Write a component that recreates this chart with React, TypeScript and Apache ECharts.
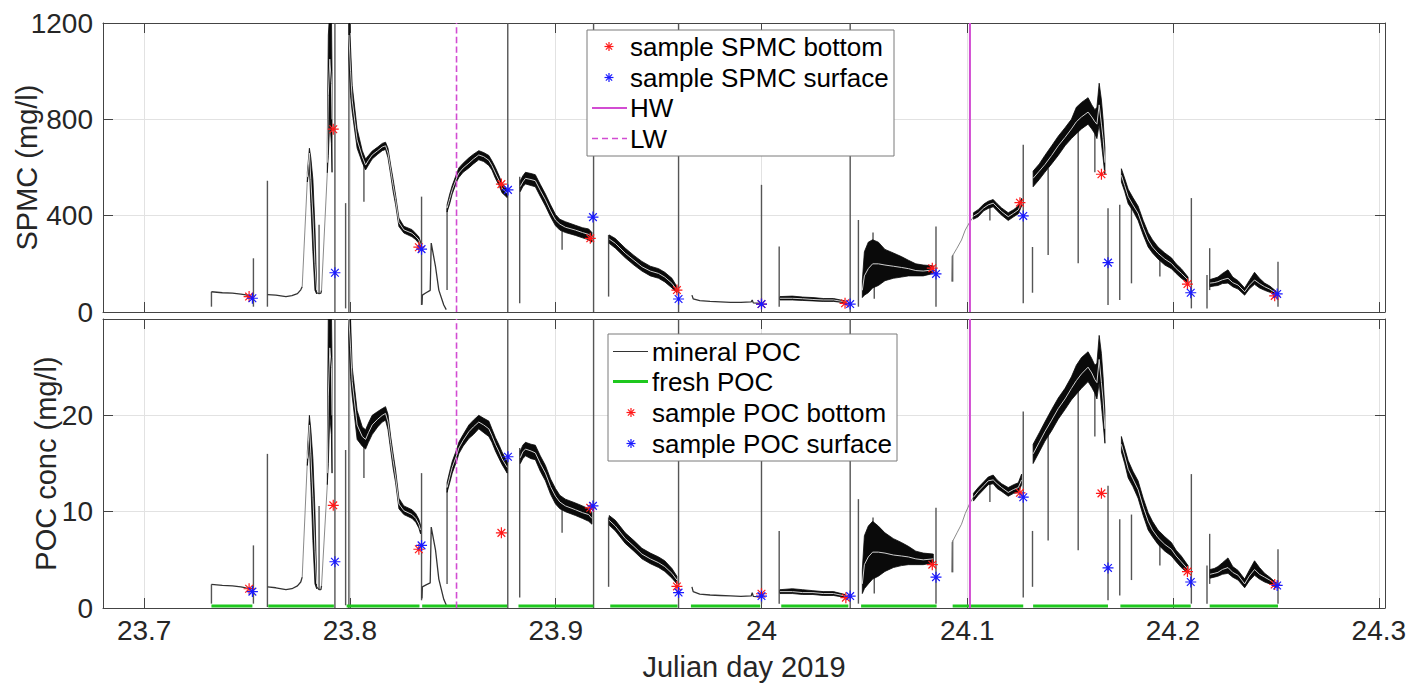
import React, { useEffect, useRef } from 'react';
import * as echarts from 'echarts';

// ---------- axes ----------
const xTicks = [23.7, 23.8, 23.9, 24.0, 24.1, 24.2, 24.3];
const xMin = 23.68;
const xMax = 24.303;
const spmcMax = 1200;
const pocMax = 30;
const hwDay = 24.1013;
const lwDay = 23.8518;

// ---------- SPMC (top panel) ----------
// noisy record: [day, low, smoothed, high]
const spmcBand = [
  [[23.7793, 540, 560, 580], [23.7803, 600, 660, 680], [23.7810, 450, 550, 640], [23.7820, 250, 400, 550], [23.7830, 90, 200, 350], [23.7838, 75, 90, 110]],
  [[23.7890, 578, 620, 700], [23.7895, 650, 900, 1150], [23.7902, 800, 1050, 1250], [23.7910, 700, 950, 1250], [23.7913, 580, 800, 1000]],
  [[23.7995, 1050, 1150, 1250], [23.8003, 900, 1000, 1100], [23.8011, 830, 880, 940], [23.8035, 680, 715, 760], [23.8060, 620, 645, 670], [23.8076, 590, 610, 635], [23.8090, 610, 630, 650], [23.8108, 635, 652, 668], [23.8135, 655, 670, 685], [23.8157, 670, 685, 700], [23.8173, 675, 690, 705], [23.8185, 640, 660, 680], [23.8198, 570, 590, 610], [23.8210, 500, 525, 550], [23.8222, 445, 466, 485], [23.8238, 355, 372, 390], [23.8262, 328, 341, 356], [23.8302, 312, 327, 342], [23.8320, 300, 313, 326], [23.8335, 285, 299, 312], [23.8343, 265, 278, 292]],
  [[23.8472, 415, 431, 445], [23.8485, 450, 470, 490], [23.8497, 490, 507, 525], [23.8521, 545, 562, 580], [23.8529, 558, 577, 598], [23.8550, 580, 598, 618], [23.8578, 598, 618, 640], [23.8600, 615, 635, 655], [23.8626, 632, 652, 670], [23.8650, 625, 645, 662], [23.8675, 608, 630, 650], [23.8690, 590, 608, 628], [23.8707, 555, 577, 600], [23.8725, 525, 545, 565], [23.8739, 495, 514, 535], [23.8764, 475, 493, 510]],
  [[23.8828, 500, 521, 545], [23.8840, 520, 540, 565], [23.8853, 532, 555, 580], [23.8880, 525, 550, 575], [23.8901, 520, 545, 570], [23.8925, 480, 505, 530], [23.8950, 440, 466, 490], [23.8975, 395, 420, 445], [23.8999, 358, 382, 405], [23.9020, 340, 365, 385], [23.9047, 330, 352, 375], [23.9096, 318, 340, 360], [23.9130, 308, 330, 350], [23.9160, 300, 322, 345], [23.9176, 290, 313, 330]],
  [[23.9260, 285, 303, 320], [23.9290, 265, 285, 305], [23.9338, 225, 244, 265], [23.9380, 195, 215, 235], [23.9419, 170, 188, 210], [23.9460, 150, 170, 190], [23.9500, 140, 160, 180], [23.9530, 125, 145, 165], [23.9565, 100, 119, 140], [23.9589, 80, 91, 105]],
  [[24.0090, 50, 57, 64], [24.0150, 50, 57, 66], [24.0200, 48, 55, 62], [24.0250, 46, 52, 60], [24.0300, 44, 50, 56], [24.0350, 44, 50, 56], [24.0406, 38, 42, 46]],
  [[24.0490, 60, 90, 130], [24.0500, 70, 150, 250], [24.0519, 80, 180, 290], [24.0540, 100, 200, 300], [24.0568, 110, 200, 290], [24.0600, 130, 195, 260], [24.0641, 140, 190, 245], [24.0680, 145, 185, 230], [24.0714, 150, 180, 215], [24.0750, 150, 172, 200], [24.0786, 150, 170, 195], [24.0835, 160, 175, 192]],
  [[24.1030, 385, 398, 412], [24.1053, 395, 410, 425], [24.1080, 420, 432, 448], [24.1102, 430, 445, 460], [24.1126, 437, 452, 467], [24.1145, 420, 436, 450], [24.1167, 402, 417, 432], [24.1199, 380, 396, 412], [24.1225, 395, 410, 425], [24.1248, 408, 424, 440], [24.1264, 440, 455, 472]],
  [[24.1320, 520, 555, 585], [24.1350, 550, 585, 615], [24.1377, 580, 612, 650], [24.1410, 615, 650, 690], [24.1442, 650, 690, 730], [24.1475, 690, 725, 765], [24.1506, 720, 760, 800], [24.1530, 740, 790, 850], [24.1555, 760, 810, 870], [24.1587, 780, 830, 890], [24.1605, 760, 810, 860], [24.1620, 740, 790, 840], [24.1630, 720, 780, 850], [24.1641, 780, 860, 950], [24.1652, 700, 780, 880], [24.1660, 640, 720, 800], [24.1669, 570, 620, 680]],
  [[24.1749, 540, 568, 595], [24.1765, 500, 525, 555], [24.1782, 450, 479, 510], [24.1805, 420, 445, 475], [24.1830, 380, 410, 440], [24.1855, 320, 350, 380], [24.1879, 270, 299, 330], [24.1900, 245, 270, 300], [24.1927, 220, 244, 270], [24.1960, 195, 220, 245], [24.1992, 180, 202, 225], [24.2015, 160, 180, 200], [24.2040, 140, 161, 180], [24.2073, 120, 133, 145]],
  [[24.2180, 105, 120, 135], [24.2200, 108, 122, 140], [24.2218, 110, 126, 145], [24.2240, 118, 134, 160], [24.2267, 120, 140, 175], [24.2290, 105, 122, 145], [24.2316, 95, 112, 130], [24.2348, 70, 84, 100], [24.2370, 95, 110, 130], [24.2396, 115, 133, 165], [24.2420, 100, 118, 140], [24.2445, 90, 105, 120], [24.2470, 82, 95, 108], [24.2501, 70, 78, 86]],
];
// quiet stretches: [day, value]
const spmcThin = [
  [[23.7327, 84], [23.7380, 80], [23.7429, 78], [23.7470, 74], [23.7494, 71], [23.7526, 64]],
  [[23.7600, 72], [23.7640, 70], [23.7689, 64], [23.7718, 68], [23.7745, 76], [23.7761, 92], [23.7768, 105]],
  [[23.7838, 80], [23.7850, 76], [23.7859, 78], [23.7862, 90]],
  [[23.8350, 30], [23.8352, 70], [23.8370, 80], [23.8390, 90], [23.8395, 286], [23.8416, 188], [23.8432, 91], [23.8456, 29], [23.8468, 10]],
  [[23.9662, 70], [23.9668, 55], [23.9700, 47], [23.9750, 44], [23.9800, 42], [23.9850, 40], [23.9900, 40], [23.9950, 42], [23.9955, 50], [23.9960, 38], [23.9994, 36]],
];
const spmcRamps = [
  [[23.7768, 105], [23.7793, 549]],
  [[23.7862, 90], [23.7890, 578]],
  [[24.0924, 126], [24.0926, 230], [24.0950, 265], [24.0972, 299], [24.0990, 340], [24.1013, 375], [24.1030, 395]],
];
// spikes: [day, from, to]
const spmcSpikes = [
  [23.7327, 22, 84], [23.7531, 22, 223], [23.7599, 22, 545], [23.7850, 78, 362], [23.7927, 0, 1200], [23.7979, 15, 452],
  [23.7995, 0, 1200], [23.8068, 458, 620], [23.8348, 29, 479], [23.8472, 91, 431], [23.8767, 0, 1200], [23.8825, 36, 562],
  [23.9031, 258, 360], [23.9184, 0, 1200], [23.9257, 64, 320], [23.9597, 0, 1200], [24.0, 22, 528], [24.0086, 22, 272],
  [24.0431, 0, 1200], [24.0471, 22, 382], [24.0542, 150, 330], [24.0548, 55, 200], [24.0848, 22, 355], [24.0929, 126, 237],
  [24.1110, 380, 450], [24.1272, 36, 694], [24.1317, 80, 270], [24.1393, 237, 597], [24.1539, 202, 840], [24.1620, 580, 800],
  [24.1684, 29, 431], [24.1741, 50, 445], [24.1798, 119, 435], [24.1936, 147, 230], [24.2089, 15, 473], [24.2165, 15, 154],
  [24.2178, 91, 265], [24.2510, 22, 209],
];
const spmcBottom = [
  [23.7510, 64], [23.7919, 759], [23.8335, 269], [23.8736, 531], [23.9168, 306], [23.9589, 91], [24.0, 33],
  [24.0406, 36], [24.0830, 182], [24.1256, 454], [24.1652, 572], [24.2070, 116], [24.2494, 67],
];
const spmcSurface = [
  [23.7526, 57], [23.7927, 163], [23.8348, 261], [23.8768, 507], [23.9181, 394], [23.9597, 54], [24.0, 33],
  [24.0431, 33], [24.0848, 158], [24.1272, 399], [24.1684, 205], [24.2086, 80], [24.2506, 75],
];

// ---------- POC (bottom panel) ----------
const pocBand = [
  [[23.7793, 14.8, 15.5, 16.2], [23.7803, 17.0, 19.0, 20.0], [23.7810, 13.0, 16.0, 18.5], [23.7820, 7.0, 11.5, 15.5], [23.7830, 2.5, 6.0, 10.0], [23.7838, 2.0, 2.5, 3.2]],
  [[23.7890, 12.8, 14, 16], [23.7895, 15, 22, 31], [23.7902, 20, 27, 31], [23.7910, 18, 25, 31], [23.7913, 14, 20, 26]],
  [[23.7995, 28, 30, 31], [23.8003, 24, 27, 30], [23.8011, 22, 23.5, 25], [23.8035, 17.5, 19, 20.5], [23.8060, 16.8, 17.8, 18.8], [23.8076, 16.5, 17.5, 18.5], [23.8090, 17.2, 18.2, 19.2], [23.8108, 18.0, 19.0, 20.0], [23.8135, 18.8, 19.6, 20.4], [23.8157, 19.3, 20.0, 20.7], [23.8173, 19.5, 20.2, 20.9], [23.8185, 18.5, 19.3, 20.1], [23.8198, 16.4, 17.1, 17.8], [23.8210, 14.5, 15.3, 16.0], [23.8222, 13.0, 13.6, 14.3], [23.8238, 10.3, 10.8, 11.4], [23.8262, 9.7, 10.1, 10.6], [23.8302, 9.3, 9.7, 10.2], [23.8320, 8.9, 9.3, 9.8], [23.8335, 8.3, 8.7, 9.2], [23.8343, 7.7, 8.1, 8.6]],
  [[23.8472, 12.0, 12.5, 13.0], [23.8485, 13.0, 13.6, 14.2], [23.8497, 14.0, 14.6, 15.2], [23.8521, 15.4, 16.0, 16.6], [23.8529, 16.0, 16.6, 17.2], [23.8550, 16.8, 17.4, 18.0], [23.8578, 17.6, 18.3, 19.0], [23.8600, 18.0, 18.8, 19.5], [23.8626, 18.6, 19.3, 20.0], [23.8650, 18.2, 19.0, 19.7], [23.8675, 17.8, 18.6, 19.4], [23.8690, 17.2, 17.9, 18.6], [23.8707, 16.3, 17.0, 17.7], [23.8725, 15.5, 16.2, 16.9], [23.8739, 14.9, 15.5, 16.2], [23.8764, 14.0, 14.6, 15.2]],
  [[23.8828, 15.0, 15.6, 16.3], [23.8840, 15.5, 16.2, 16.9], [23.8853, 15.8, 16.5, 17.2], [23.8880, 15.5, 16.3, 17.0], [23.8901, 15.4, 16.1, 16.9], [23.8925, 14.2, 15.0, 15.8], [23.8950, 13.2, 14.0, 14.8], [23.8975, 11.8, 12.6, 13.4], [23.8999, 10.8, 11.6, 12.4], [23.9020, 10.3, 11.0, 11.7], [23.9047, 10.0, 10.6, 11.3], [23.9096, 9.6, 10.2, 10.9], [23.9130, 9.3, 9.9, 10.6], [23.9160, 9.0, 9.7, 10.3], [23.9176, 8.7, 9.3, 9.9]],
  [[23.9260, 8.6, 9.1, 9.6], [23.9290, 8.0, 8.5, 9.1], [23.9338, 6.7, 7.2, 7.8], [23.9380, 5.9, 6.4, 7.0], [23.9419, 5.1, 5.6, 6.2], [23.9460, 4.6, 5.1, 5.7], [23.9500, 4.2, 4.7, 5.3], [23.9530, 3.8, 4.3, 4.9], [23.9565, 3.1, 3.6, 4.1], [23.9589, 2.5, 2.9, 3.3]],
  [[24.0090, 1.5, 1.7, 1.9], [24.0150, 1.5, 1.7, 2.0], [24.0200, 1.4, 1.6, 1.9], [24.0250, 1.4, 1.6, 1.8], [24.0300, 1.3, 1.5, 1.7], [24.0350, 1.3, 1.5, 1.7], [24.0406, 1.1, 1.25, 1.4]],
  [[24.0490, 1.5, 2.5, 4.0], [24.0500, 2.0, 4.5, 7.5], [24.0519, 2.5, 5.3, 8.5], [24.0540, 3.0, 5.8, 9.0], [24.0568, 3.3, 5.8, 8.5], [24.0600, 3.8, 5.7, 7.8], [24.0641, 4.2, 5.5, 7.2], [24.0680, 4.4, 5.4, 6.8], [24.0714, 4.5, 5.3, 6.4], [24.0750, 4.5, 5.1, 5.9], [24.0786, 4.5, 5.0, 5.7], [24.0835, 4.7, 5.1, 5.6]],
  [[24.1030, 11.1, 11.5, 11.9], [24.1053, 11.7, 12.1, 12.5], [24.1080, 12.3, 12.7, 13.1], [24.1102, 12.8, 13.2, 13.6], [24.1126, 12.9, 13.3, 13.8], [24.1145, 12.4, 12.9, 13.3], [24.1167, 12.1, 12.5, 12.9], [24.1199, 11.6, 12.0, 12.5], [24.1225, 11.9, 12.3, 12.8], [24.1248, 12.0, 12.5, 13.0], [24.1264, 12.8, 13.3, 13.9]],
  [[24.1320, 15.0, 16.0, 17.0], [24.1350, 16.2, 17.2, 18.2], [24.1377, 17.3, 18.3, 19.3], [24.1410, 18.4, 19.5, 20.6], [24.1442, 19.6, 20.7, 21.8], [24.1475, 20.6, 21.7, 22.8], [24.1506, 21.6, 22.8, 24.0], [24.1530, 22.2, 23.6, 25.2], [24.1555, 22.8, 24.3, 26.0], [24.1587, 23.5, 25.0, 26.6], [24.1605, 22.9, 24.4, 25.9], [24.1620, 22.3, 23.7, 25.2], [24.1630, 21.7, 23.4, 25.4], [24.1641, 23.4, 25.8, 28.3], [24.1652, 21.0, 23.4, 26.4], [24.1660, 19.2, 21.6, 24.0], [24.1669, 17.1, 18.6, 20.4]],
  [[24.1749, 16.2, 17.0, 17.8], [24.1765, 15.0, 15.8, 16.6], [24.1782, 13.5, 14.4, 15.3], [24.1805, 12.6, 13.4, 14.2], [24.1830, 11.4, 12.3, 13.2], [24.1855, 9.6, 10.5, 11.4], [24.1879, 8.1, 9.0, 9.9], [24.1900, 7.4, 8.1, 9.0], [24.1927, 6.6, 7.3, 8.1], [24.1960, 5.9, 6.6, 7.4], [24.1992, 5.4, 6.1, 6.8], [24.2015, 4.8, 5.4, 6.0], [24.2040, 4.2, 4.8, 5.4], [24.2073, 3.6, 4.0, 4.4]],
  [[24.2180, 3.1, 3.5, 4.0], [24.2200, 3.2, 3.6, 4.1], [24.2218, 3.3, 3.7, 4.3], [24.2240, 3.5, 4.0, 4.7], [24.2267, 3.6, 4.2, 5.2], [24.2290, 3.2, 3.7, 4.3], [24.2316, 2.9, 3.4, 3.9], [24.2348, 2.1, 2.5, 3.0], [24.2370, 2.8, 3.3, 3.9], [24.2396, 3.4, 4.0, 4.9], [24.2420, 3.0, 3.5, 4.2], [24.2445, 2.7, 3.2, 3.6], [24.2470, 2.5, 2.9, 3.2], [24.2501, 2.1, 2.4, 2.6]],
];
const pocThin = [
  [[23.7327, 2.45], [23.7380, 2.35], [23.7429, 2.3], [23.7470, 2.2], [23.7494, 2.1], [23.7526, 2.0]],
  [[23.7600, 2.2], [23.7640, 2.1], [23.7689, 1.9], [23.7718, 2.0], [23.7745, 2.3], [23.7761, 2.7], [23.7768, 3.2]],
  [[23.7838, 2.2], [23.7850, 1.9], [23.7859, 1.9], [23.7862, 2.3]],
  [[23.8350, 1.0], [23.8352, 2.2], [23.8370, 2.4], [23.8390, 2.6], [23.8395, 8.4], [23.8416, 6.0], [23.8432, 3.0], [23.8456, 0.9], [23.8468, 0.3]],
  [[23.9662, 2.2], [23.9668, 1.7], [23.9700, 1.45], [23.9750, 1.35], [23.9800, 1.3], [23.9850, 1.25], [23.9900, 1.2], [23.9950, 1.25], [23.9955, 1.6], [23.9960, 1.2], [23.9994, 1.15]],
];
const pocRamps = [
  [[23.7768, 3.2], [23.7793, 15.2]],
  [[23.7862, 2.3], [23.7890, 12.8]],
  [[24.0924, 3.7], [24.0926, 6.8], [24.0950, 7.8], [24.0972, 8.7], [24.0990, 9.8], [24.1013, 10.9], [24.1030, 11.5]],
];
const pocSpikes = [
  [23.7327, 0.45, 2.45], [23.7531, 0.45, 6.5], [23.7599, 0.1, 16.0], [23.7850, 1.9, 10.6], [23.7927, 0, 30], [23.7979, 0.28, 16.4],
  [23.7995, 0, 30], [23.8068, 13.5, 18.0], [23.8348, 0.8, 14.0], [23.8472, 2.5, 12.5], [23.8767, 0, 30], [23.8825, 1.1, 16.6],
  [23.9031, 7.8, 11.0], [23.9184, 0, 30], [23.9257, 2.2, 9.4], [23.9597, 0, 30], [24.0, 0.45, 16.0], [24.0086, 0.45, 8.0],
  [24.0431, 0, 30], [24.0471, 0.45, 11.3], [24.0542, 4.5, 9.4], [24.0548, 1.5, 6.0], [24.0848, 0.45, 10.4], [24.0929, 3.7, 7.0],
  [24.1110, 11.0, 13.0], [24.1272, 1.1, 20.4], [24.1317, 2.2, 8.0], [24.1393, 7.0, 18.0], [24.1539, 6.0, 25.2], [24.1620, 17.8, 24.0],
  [24.1684, 0.8, 12.7], [24.1741, 1.3, 9.2], [24.1798, 2.9, 9.7], [24.1936, 4.4, 6.9], [24.2089, 0.45, 13.9], [24.2165, 0.45, 4.4],
  [24.2178, 2.5, 7.7], [24.2510, 0.45, 6.1],
];
const pocBottom = [
  [23.7510, 2.0], [23.7919, 10.66], [23.8335, 6.1], [23.8736, 7.8], [23.9168, 10.4], [23.9589, 2.24], [24.0, 1.48],
  [24.0410, 1.07], [24.0830, 4.5], [24.1256, 11.96], [24.1652, 11.9], [24.2070, 3.78], [24.2494, 2.44],
];
const pocSurface = [
  [23.7526, 1.7], [23.7927, 4.8], [23.8348, 6.5], [23.8768, 15.7], [23.9181, 10.6], [23.9597, 1.6], [24.0, 1.24],
  [24.0431, 1.24], [24.0848, 3.2], [24.1272, 11.5], [24.1684, 4.16], [24.2086, 2.7], [24.2506, 2.34],
];
const freshPocLevel = 0.2;
const freshPocSpans = [
  [23.7327, 23.7526], [23.7603, 23.7922], [23.7984, 23.8338], [23.8351, 23.8764], [23.8819, 23.9184],
  [23.9265, 23.9592], [23.9657, 23.9994], [24.0096, 24.0422], [24.0484, 24.0851], [24.0929, 24.1272],
  [24.1320, 24.1684], [24.1744, 24.2086], [24.2178, 24.2510],
];

// ---------- styling ----------
const FONT = '"Liberation Sans", Arial, Helvetica, sans-serif';
const AXIS_COLOR = '#444';
const TEXT_COLOR = '#262626';
const MAGENTA = '#d24cd2';
const STAR = 'path://M10,0 L10,20 M0,10 L20,10 M3,3 L17,17 M3,17 L17,3';

function withBreaks(segs: number[][][], pick: (p: number[]) => number[]) {
  const out: any[] = [];
  segs.forEach((s) => {
    s.forEach((p) => out.push(pick(p)));
    out.push([s[s.length - 1][0], '-']);
  });
  return out;
}

function bandSeries(segs: number[][][], xi: number, yi: number) {
  return {
    type: 'custom',
    xAxisIndex: xi,
    yAxisIndex: yi,
    clip: true,
    silent: true,
    z: 3,
    data: segs.map((s, i) => [s[0][0], s[0][2], i]),
    encode: { x: 0, y: 1 },
    renderItem: (params: any, api: any) => {
      const seg = segs[params.dataIndex];
      const up = seg.map((p) => api.coord([p[0], p[3]]));
      const lo = seg.map((p) => api.coord([p[0], p[1]])).reverse();
      return {
        type: 'polygon',
        shape: { points: up.concat(lo) },
        style: { fill: '#0a0a0a', stroke: '#0a0a0a', lineWidth: 0.8 },
      };
    },
  };
}

function spikeSeries(spikes: number[][], xi: number, yi: number) {
  return {
    type: 'custom',
    xAxisIndex: xi,
    yAxisIndex: yi,
    clip: true,
    silent: true,
    z: 2,
    data: spikes,
    encode: { x: 0, y: [1, 2] },
    renderItem: (params: any, api: any) => {
      const a = api.coord([api.value(0), api.value(1)]);
      const b = api.coord([api.value(0), api.value(2)]);
      return {
        type: 'line',
        shape: { x1: a[0], y1: a[1], x2: b[0], y2: b[1] },
        style: { stroke: '#555', lineWidth: 1.4 },
      };
    },
  };
}

function lineSeries(name: string, data: any[], xi: number, yi: number, color: string, width: number, z: number, type = 'solid') {
  return {
    name,
    type: 'line',
    xAxisIndex: xi,
    yAxisIndex: yi,
    data,
    showSymbol: false,
    symbol: 'none',
    connectNulls: false,
    silent: true,
    z,
    lineStyle: { color, width, type },
  };
}

function starSeries(name: string, data: number[][], xi: number, yi: number, color: string) {
  return {
    name,
    type: 'scatter',
    xAxisIndex: xi,
    yAxisIndex: yi,
    data,
    symbol: STAR,
    symbolSize: 11,
    silent: true,
    z: 6,
    itemStyle: { color: 'transparent', borderColor: color, borderWidth: 1.2, opacity: 1 },
  };
}

function legendStar(cx: number, cy: number, color: string) {
  const r = 4.5;
  const d = r * 0.7;
  const seg = (x1: number, y1: number, x2: number, y2: number) => ({
    type: 'line',
    z: 101,
    shape: { x1: cx + x1, y1: cy + y1, x2: cx + x2, y2: cy + y2 },
    style: { stroke: color, lineWidth: 1.2 },
  });
  return [seg(-r, 0, r, 0), seg(0, -r, 0, r), seg(-d, -d, d, d), seg(-d, d, d, -d)];
}

function legendText(x: number, y: number, text: string) {
  return {
    type: 'text',
    z: 101,
    x,
    y,
    style: { text, fontSize: 26, fontFamily: FONT, fill: '#000', align: 'left', verticalAlign: 'middle' },
  };
}

function xAxisDef(gridIndex: number, position: string, labels: boolean, grid: boolean) {
  return {
    type: 'value',
    gridIndex,
    position,
    min: xMin,
    max: xMax,
    axisLine: { show: true, onZero: false, lineStyle: { color: AXIS_COLOR, width: 1 } },
    axisTick: { show: true, inside: true, length: 10, customValues: xTicks, lineStyle: { color: AXIS_COLOR } },
    axisLabel: {
      show: labels,
      customValues: xTicks,
      fontSize: 28,
      fontFamily: FONT,
      color: TEXT_COLOR,
      margin: 8,
      formatter: (v: number) => String(Math.round(v * 10) / 10),
    },
    splitLine: { show: grid, lineStyle: { color: '#e2e2e2', width: 1 } },
    name: labels ? 'Julian day 2019' : '',
    nameLocation: 'middle',
    nameGap: 44,
    nameMoveOverlap: false,
    nameTextStyle: { fontSize: 29, fontFamily: FONT, color: TEXT_COLOR },
  };
}

function yAxisDef(gridIndex: number, position: string, max: number, interval: number, name: string, nameGap: number, primary: boolean) {
  return {
    type: 'value',
    gridIndex,
    position,
    min: 0,
    max,
    interval,
    axisLine: { show: true, onZero: false, lineStyle: { color: AXIS_COLOR, width: 1 } },
    axisTick: { show: true, inside: true, length: 10, lineStyle: { color: AXIS_COLOR } },
    axisLabel: {
      show: primary,
      fontSize: 28,
      fontFamily: FONT,
      color: TEXT_COLOR,
      margin: 10,
      showMaxLabel: max === spmcMax,
      formatter: (v: number) => String(v),
    },
    splitLine: { show: primary, lineStyle: { color: '#e2e2e2', width: 1 } },
    name: primary ? name : '',
    nameLocation: 'middle',
    nameGap,
    nameMoveOverlap: false,
    nameTextStyle: { fontSize: 29, fontFamily: FONT, color: TEXT_COLOR },
  };
}

export default function App() {
  const ref = useRef<HTMLDivElement>(null);

  useEffect(() => {
    if (!ref.current) return;
    const chart = echarts.init(ref.current, undefined, { renderer: 'svg' });

    const freshData: any[] = [];
    freshPocSpans.forEach(([a, b]) => {
      freshData.push([a, freshPocLevel], [b, freshPocLevel], [b, '-']);
    });

    const option: any = {
      animation: false,
      backgroundColor: '#fff',
      grid: [
        { left: 103, top: 23, width: 1282, height: 289, show: false, containLabel: false, outerBoundsMode: 'none' },
        { left: 103, top: 319, width: 1282, height: 289, show: false, containLabel: false, outerBoundsMode: 'none' },
      ],
      xAxis: [
        xAxisDef(0, 'bottom', false, true),
        xAxisDef(0, 'top', false, false),
        xAxisDef(1, 'bottom', true, true),
        xAxisDef(1, 'top', false, false),
      ],
      yAxis: [
        yAxisDef(0, 'left', spmcMax, 400, 'SPMC (mg/l)', 62, true),
        yAxisDef(0, 'right', spmcMax, 400, '', 0, false),
        yAxisDef(1, 'left', pocMax, 10, 'POC conc (mg/l)', 43, true),
        yAxisDef(1, 'right', pocMax, 10, '', 0, false),
      ],
      series: [
        // top panel
        spikeSeries(spmcSpikes, 0, 0),
        lineSeries('ramps', withBreaks(spmcRamps, (p) => p), 0, 0, '#8a8a8a', 1, 2),
        lineSeries('quiet', withBreaks(spmcThin, (p) => p), 0, 0, '#333', 1.3, 3),
        bandSeries(spmcBand, 0, 0),
        lineSeries('smoothed', withBreaks(spmcBand, (p) => [p[0], p[2]]), 0, 0, '#cfcfcf', 1, 4),
        lineSeries('HW', [[hwDay, 0], [hwDay, spmcMax]], 0, 0, MAGENTA, 2, 5),
        lineSeries('LW', [[lwDay, 0], [lwDay, spmcMax]], 0, 0, MAGENTA, 1.6, 5, 'dashed'),
        starSeries('sample SPMC bottom', spmcBottom, 0, 0, '#ff1a1a'),
        starSeries('sample SPMC surface', spmcSurface, 0, 0, '#1a1aff'),
        // bottom panel
        spikeSeries(pocSpikes, 2, 2),
        lineSeries('ramps2', withBreaks(pocRamps, (p) => p), 2, 2, '#8a8a8a', 1, 2),
        lineSeries('quiet2', withBreaks(pocThin, (p) => p), 2, 2, '#333', 1.3, 3),
        bandSeries(pocBand, 2, 2),
        lineSeries('smoothed2', withBreaks(pocBand, (p) => [p[0], p[2]]), 2, 2, '#cfcfcf', 1, 4),
        lineSeries('fresh POC', freshData, 2, 2, '#1ec81e', 3, 4),
        lineSeries('HW2', [[hwDay, 0], [hwDay, pocMax]], 2, 2, MAGENTA, 2, 5),
        lineSeries('LW2', [[lwDay, 0], [lwDay, pocMax]], 2, 2, MAGENTA, 1.6, 5, 'dashed'),
        starSeries('sample POC bottom', pocBottom, 2, 2, '#ff1a1a'),
        starSeries('sample POC surface', pocSurface, 2, 2, '#1a1aff'),
      ],
      graphic: [
        // top legend
        { type: 'rect', z: 100, shape: { x: 587, y: 30, width: 307, height: 126 }, style: { fill: '#fff', stroke: '#7a7a7a', lineWidth: 1 } },
        ...legendStar(609, 46.5, '#ff1a1a'),
        legendText(630, 46.5, 'sample SPMC bottom'),
        ...legendStar(609, 77.5, '#1a1aff'),
        legendText(630, 77.5, 'sample SPMC surface'),
        { type: 'line', z: 101, shape: { x1: 592, y1: 108, x2: 627, y2: 108 }, style: { stroke: MAGENTA, lineWidth: 2 } },
        legendText(630, 108, 'HW'),
        { type: 'line', z: 101, shape: { x1: 592, y1: 138.5, x2: 627, y2: 138.5 }, style: { stroke: MAGENTA, lineWidth: 1.6, lineDash: [6, 4] } },
        legendText(630, 138.5, 'LW'),
        // bottom legend
        { type: 'rect', z: 100, shape: { x: 608, y: 334, width: 289, height: 127 }, style: { fill: '#fff', stroke: '#7a7a7a', lineWidth: 1 } },
        { type: 'line', z: 101, shape: { x1: 613, y1: 351.5, x2: 648, y2: 351.5 }, style: { stroke: '#333', lineWidth: 1 } },
        legendText(652, 351.5, 'mineral POC'),
        { type: 'line', z: 101, shape: { x1: 613, y1: 381.5, x2: 648, y2: 381.5 }, style: { stroke: '#1ec81e', lineWidth: 3 } },
        legendText(652, 381.5, 'fresh POC'),
        ...legendStar(631, 412.5, '#ff1a1a'),
        legendText(652, 412.5, 'sample POC bottom'),
        ...legendStar(631, 443.5, '#1a1aff'),
        legendText(652, 443.5, 'sample POC surface'),
      ],
    };

    chart.setOption(option);
    return () => chart.dispose();
  }, []);

  return (
    <div
      ref={ref}
      style={{ position: 'fixed', left: 0, top: 0, width: 1407, height: 684, background: '#fff' }}
    />
  );
}
